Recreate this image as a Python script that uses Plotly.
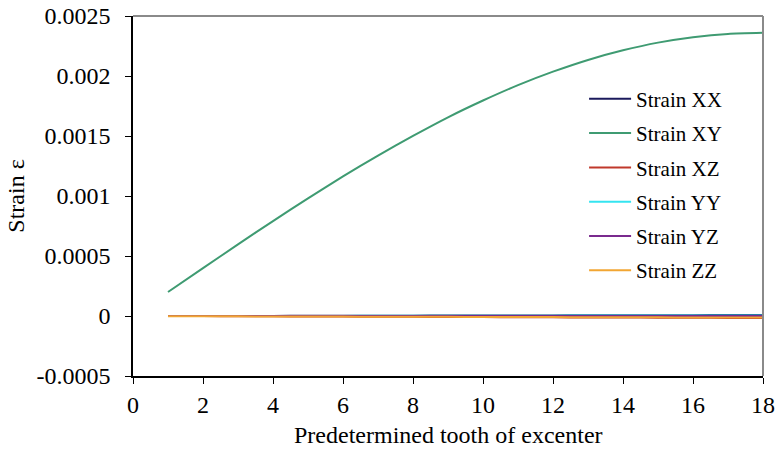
import plotly.graph_objects as go

teeth = list(range(1, 19))
strain_xx = [0.0, 0.0, 0.000001, 0.000001, 0.000002, 0.000002, 0.000003, 0.000003, 0.000004,
             0.000004, 0.000005, 0.000005, 0.000006, 0.000006, 0.000007, 0.000007, 0.000008, 0.000008]
strain_xy = [0.000200, 0.000399, 0.000597, 0.000791, 0.000980, 0.001163, 0.001337, 0.001501, 0.001656,
             0.001796, 0.001924, 0.002036, 0.002134, 0.002214, 0.002278, 0.002323, 0.002351, 0.002360]
strain_xz = [0.0, -0.000001, -0.000002, -0.000003, -0.000004, -0.000005, -0.000006, -0.000007, -0.000008,
             -0.000009, -0.000010, -0.000011, -0.000012, -0.000013, -0.000014, -0.000015, -0.000016, -0.000017]
strain_yy = [0.0, 0.0, 0.0, 0.000001, 0.000001, 0.000001, 0.000002, 0.000002, 0.000002,
             0.000003, 0.000003, 0.000003, 0.000004, 0.000004, 0.000004, 0.000005, 0.000005, 0.000005]
strain_yz = [0.0] * 18
strain_zz = [-0.000002, -0.000003, -0.000003, -0.000004, -0.000004, -0.000005, -0.000006, -0.000006, -0.000007,
             -0.000008, -0.000008, -0.000009, -0.000010, -0.000010, -0.000011, -0.000012, -0.000012, -0.000013]

series = [
    ("Strain XX", strain_xx, "#1B1A5C"),
    ("Strain XY", strain_xy, "#3F9B72"),
    ("Strain XZ", strain_xz, "#C0392B"),
    ("Strain YY", strain_yy, "#35E4F0"),
    ("Strain YZ", strain_yz, "#7A2A8E"),
    ("Strain ZZ", strain_zz, "#F2A633"),
]

y_ticks = [-0.0005, 0, 0.0005, 0.001, 0.0015, 0.002, 0.0025]
y_tick_text = ["-0.0005", "0", "0.0005", "0.001", "0.0015", "0.002", "0.0025"]
x_ticks = [0, 2, 4, 6, 8, 10, 12, 14, 16, 18]
x_title = "Predetermined tooth of excenter"
y_title = "Strain ε"

fig = go.Figure()
for i, (name, vals, color) in enumerate(series):
    fig.add_trace(go.Scatter(x=teeth, y=vals, mode="lines", name=name,
                             legendgroup=f"g{i}",
                             line=dict(color=color, width=2, shape="spline", smoothing=0.6)))

font = "Liberation Serif"
fig.update_layout(
    width=777, height=453,
    margin=dict(l=133, r=14, t=16, b=77),
    paper_bgcolor="white", plot_bgcolor="white",
    font=dict(family=font, color="black", size=24),
    showlegend=True,
    legend=dict(x=0.716, y=0.826, xanchor="left", yanchor="top",
                bgcolor="rgba(0,0,0,0)", font=dict(size=21, family=font),
                tracegroupgap=4, itemwidth=42),
    xaxis=dict(range=[0, 18], tickvals=x_ticks, showgrid=False, zeroline=False,
               showline=True, linecolor="black", linewidth=1.5, automargin=False,
               ticks="outside", ticklen=6, tickcolor="black",
               tickfont=dict(size=24, family=font)),
    yaxis=dict(range=[-0.0005, 0.0025], tickvals=y_ticks, ticktext=y_tick_text,
               showgrid=False, zeroline=False, automargin=False,
               showline=True, linecolor="black", linewidth=1.5,
               ticks="outside", ticklen=6, tickcolor="black", ticklabelstandoff=10,
               tickfont=dict(size=24, family=font),
               title=dict(text=y_title, font=dict(size=24, family=font), standoff=5)),
    annotations=[
        dict(text=x_title, xref="paper", yref="paper", x=0.5, y=-0.163, xanchor="center",
             yanchor="middle", showarrow=False, font=dict(size=24, family=font, color="black")),
    ],
    shapes=[
        dict(type="line", xref="paper", yref="paper", x0=0, x1=1, y0=1, y1=1,
             line=dict(color="#8a8a8a", width=2)),
        dict(type="line", xref="paper", yref="paper", x0=1, x1=1, y0=0, y1=1,
             line=dict(color="#8a8a8a", width=2)),
    ],
)

fig.write_html("out.html")
